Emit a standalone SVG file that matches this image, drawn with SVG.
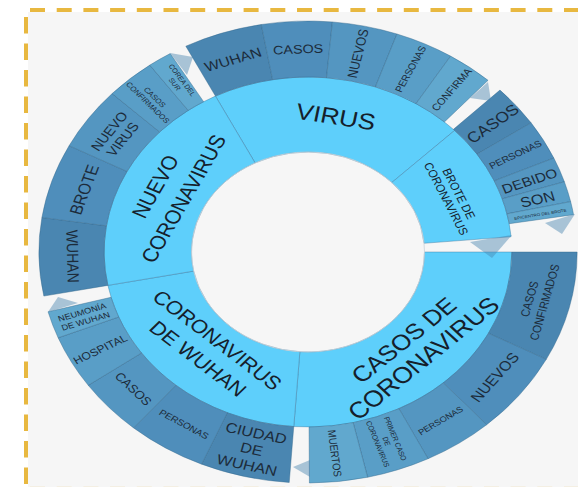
<svg xmlns="http://www.w3.org/2000/svg" width="578" height="487" viewBox="0 0 578 487">
<style>
.inner{fill:#5ecffb;stroke:#3c7399;stroke-width:0.7;stroke-opacity:0.6;vector-effect:non-scaling-stroke}
.o0{fill:#4a86b1}.o1{fill:#4f8ebb}.o2{fill:#5496c1}.o3{fill:#599ec7}.o4{fill:#61a8ce}
.seg{stroke:#2f6688;stroke-width:0.7;stroke-opacity:0.6;vector-effect:non-scaling-stroke}
.fold{fill:#4a85b0;fill-opacity:0.45}
text{font-family:"Liberation Sans",Arial,sans-serif;fill:#1c2b3a;text-anchor:middle}
.lbl{fill:#15202b}
</style>
<rect x="28" y="12" width="550" height="475" fill="#f6f6f6"/>
<g stroke="#e8b840" stroke-width="4" fill="none">
<line x1="30" y1="10" x2="578" y2="10" stroke-dasharray="15 11.7"/>
<line x1="26" y1="17" x2="26" y2="487" stroke-dasharray="16.5 10"/>
<line x1="30" y1="488.7" x2="578" y2="488.7" stroke-dasharray="15 11.7" stroke-opacity="0.4"/>
</g>
<g transform="translate(308 252) scale(1.165 1)">
<g id="connectors"></g>
<g id="virus">
<path class="inner" d="M-79.45 -155.93A175 175 0 0 1 125.88 -121.57L71.93 -69.47A100 100 0 0 0 -45.40 -89.10Z"/>
<text class="lbl" transform="translate(23.87 -135.41) rotate(10)" font-size="22.5" y="7.9">VIRUS</text>
</g>
<g id="brote-de-coronavirus">
<path class="inner" d="M125.88 -121.57A175 175 0 0 1 174.33 -15.25L99.62 -8.72A100 100 0 0 0 71.93 -69.47Z"/>
<text class="lbl" transform="translate(124.05 -55.75) rotate(65.8)" font-size="10.6"><tspan x="0" y="-2.3">BROTE DE</tspan><tspan x="0" y="9.7">CORONAVIRUS</tspan></text>
</g>
<g id="casos-de-coronavirus">
<path class="inner" d="M175 0A175 175 0 0 1 -12.21 174.57L-6.98 99.76A100 100 0 0 0 100 0Z"/>
<text class="lbl" transform="translate(90.71 97.28) rotate(-43)" font-size="22"><tspan x="0" y="-4.8">CASOS DE</tspan><tspan x="0" y="20.2" font-size="22.8">CORONAVIRUS</tspan></text>
</g>
<g id="coronavirus-de-wuhan">
<path class="inner" d="M-12.21 174.57A175 175 0 0 1 -171.78 33.39L-98.16 19.08A100 100 0 0 0 -6.98 99.76Z"/>
<text class="lbl" transform="translate(-86.14 97.37) rotate(41.5)" font-size="19"><tspan x="0" y="-5.85">CORONAVIRUS</tspan><tspan x="0" y="19.15">DE WUHAN</tspan></text>
</g>
<g id="nuevo-coronavirus">
<path class="inner" d="M-171.78 33.39A175 175 0 0 1 -79.45 -155.93L-45.40 -89.10A100 100 0 0 0 -98.16 19.08Z"/>
<text class="lbl" transform="translate(-119.02 -59.34) rotate(-63.5)" font-size="19"><tspan x="0" y="-6.85">NUEVO</tspan><tspan x="0" y="20.15">CORONAVIRUS</tspan></text>
</g>
<ellipse cx="0" cy="0" rx="100" ry="100" fill="none" stroke="#c8d3da" stroke-width="0.8" vector-effect="non-scaling-stroke"/>

<!-- VIRUS children -->
<g id="v-wuhan"><path class="seg o0" d="M-104.87 -205.82A231 231 0 0 1 -40.11 -227.49L-30.39 -172.34A175 175 0 0 0 -79.45 -155.93Z"/>
<text transform="translate(-64.41 -192.50) rotate(-18.5)" font-size="13.4" y="4.7">WUHAN</text></g>
<g id="v-casos"><path class="seg o1" d="M-40.11 -227.49A231 231 0 0 1 20.94 -230.05L15.86 -174.28A175 175 0 0 0 -30.39 -172.34Z"/>
<text transform="translate(-8.50 -202.82) rotate(-2.4)" font-size="12.3" y="4.3">CASOS</text></g>
<g id="v-nuevos"><path class="seg o2" d="M20.94 -230.05A231 231 0 0 1 76.35 -218.02L57.84 -165.17A175 175 0 0 0 15.86 -174.28Z"/>
<text transform="translate(42.89 -198.41) rotate(-77.8)" font-size="11.8" y="4.1">NUEVOS</text></g>
<g id="v-personas"><path class="seg o3" d="M76.35 -218.02A231 231 0 0 1 122.41 -195.89L92.73 -148.40A175 175 0 0 0 57.84 -165.17Z"/>
<text transform="translate(88.04 -182.92) rotate(-64.3)" font-size="9" y="3.15">PERSONAS</text></g>
<g id="v-confirma"><path class="seg o4" d="M122.41 -195.89A231 231 0 0 1 154.56 -171.66L117.09 -130.04A175 175 0 0 0 92.73 -148.40Z"/>
<text transform="translate(123.34 -162.49) rotate(-52.8)" font-size="9.5" y="3.3">CONFIRMA</text></g>

<!-- BROTE children -->
<g id="b-casos"><path class="seg o0" d="M164.77 -161.91A231 231 0 0 1 191.50 -129.18L145.08 -97.86A175 175 0 0 0 124.83 -122.66Z"/>
<text transform="translate(158.53 -128.38) rotate(-39)" font-size="15" y="5.25">CASOS</text></g>
<g id="b-personas"><path class="seg o1" d="M191.50 -129.18A231 231 0 0 1 211.02 -93.95L159.86 -71.17A175 175 0 0 0 145.08 -97.86Z"/>
<text transform="translate(178.05 -97.48) rotate(-28.7)" font-size="9" y="3.15">PERSONAS</text></g>
<g id="b-debido"><path class="seg o2" d="M211.02 -93.95A231 231 0 0 1 220.07 -70.22L166.72 -53.20A175 175 0 0 0 159.86 -71.17Z"/>
<text transform="translate(190.15 -71.09) rotate(-20.5)" font-size="13" y="4.55">DEBIDO</text></g>
<g id="b-son"><path class="seg o3" d="M220.07 -70.22A231 231 0 0 1 225.43 -50.38L170.78 -38.17A175 175 0 0 0 166.72 -53.20Z"/>
<text transform="translate(197.04 -52.80) rotate(-15)" font-size="14" y="4.9">SON</text></g>
<g id="b-epicentro"><path class="seg o4" d="M225.43 -50.38A231 231 0 0 1 227.97 -37.33L172.71 -28.28A175 175 0 0 0 170.78 -38.17Z"/>
<text transform="translate(199.47 -37.70) rotate(-10.7)" font-size="3.9" y="1.37">EPICENTRO DEL BROTE</text></g>

<!-- CASOS DE CORONAVIRUS children -->
<g id="c-casos-confirmados"><path class="seg o0" d="M231 0A231 231 0 0 1 204.53 107.37L154.95 81.34A175 175 0 0 0 175 0Z"/>
<text transform="translate(196.57 48.64) rotate(-76.1)" font-size="10.4"><tspan x="0" y="-3.1">CASOS</tspan><tspan x="0" y="10.4">CONFIRMADOS</tspan></text></g>
<g id="c-nuevos"><path class="seg o1" d="M204.53 107.37A231 231 0 0 1 153.36 172.74L116.18 130.87A175 175 0 0 0 154.95 81.34Z"/>
<text transform="translate(160.36 125.29) rotate(-52)" font-size="13.8" y="4.83">NUEVOS</text></g>
<g id="c-personas"><path class="seg o2" d="M153.36 172.74A231 231 0 0 1 103.07 206.72L78.09 156.61A175 175 0 0 0 116.18 130.87Z"/>
<text transform="translate(113.80 168.70) rotate(-34)" font-size="8" y="2.8">PERSONAS</text></g>
<g id="c-primer-caso"><path class="seg o3" d="M103.07 206.72A231 231 0 0 1 51.17 225.25L38.76 170.64A175 175 0 0 0 78.09 156.61Z"/>
<text transform="translate(67.44 189.34) rotate(70.4)" font-size="6.6"><tspan x="0" y="-5.7">PRIMER CASO</tspan><tspan x="0" y="2.3">DE</tspan><tspan x="0" y="10.3">CORONAVIRUS</tspan></text></g>
<g id="c-muertos"><path class="seg o4" d="M51.17 225.25A231 231 0 0 1 1.21 231L0.92 175A175 175 0 0 0 38.76 170.64Z"/>
<text transform="translate(22.93 201.30) rotate(83.5)" font-size="9.5" y="3.3">MUERTOS</text></g>

<!-- CORONAVIRUS DE WUHAN children -->
<g id="w-ciudad"><path class="seg o0" d="M-16.11 230.44A231 231 0 0 1 -91.36 212.15L-69.21 160.72A175 175 0 0 0 -12.21 174.57Z"/>
<text transform="translate(-48.42 197.13) rotate(13.8)" font-size="14"><tspan x="0" y="-11.6">CIUDAD</tspan><tspan x="0" y="4.9">DE</tspan><tspan x="0" y="21.4">WUHAN</tspan></text></g>
<g id="w-personas"><path class="seg o1" d="M-91.36 212.15A231 231 0 0 1 -149.71 175.91L-113.42 133.26A175 175 0 0 0 -69.21 160.72Z"/>
<text transform="translate(-106.45 172.27) rotate(31.7)" font-size="8.7" y="3.05">PERSONAS</text></g>
<g id="w-casos"><path class="seg o2" d="M-149.71 175.91A231 231 0 0 1 -188.63 133.31L-142.91 101.00A175 175 0 0 0 -113.42 133.26Z"/>
<text transform="translate(-149.92 136.88) rotate(47.6)" font-size="11.5" y="4">CASOS</text></g>
<g id="w-hospital"><path class="seg o3" d="M-188.63 133.31A231 231 0 0 1 -214.48 85.79L-162.49 65.00A175 175 0 0 0 -142.91 101.00Z"/>
<text transform="translate(-178.23 97.18) rotate(-28.6)" font-size="10.5" y="3.7">HOSPITAL</text></g>
<g id="w-neumonia"><path class="seg o4" d="M-214.48 85.79A231 231 0 0 1 -223.13 59.78L-169.03 45.29A175 175 0 0 0 -162.49 65.00Z"/>
<text transform="translate(-192.40 64.76) rotate(-18.6)" font-size="8"><tspan x="0" y="-1.95">NEUMONÍA</tspan><tspan x="0" y="7.55">DE WUHAN</tspan></text></g>

<!-- NUEVO CORONAVIRUS children -->
<g id="n-wuhan"><path class="seg o0" d="M-226.75 44.07A231 231 0 0 1 -228.41 -34.53L-173.04 -26.16A175 175 0 0 0 -171.78 33.39Z"/>
<text transform="translate(-201.96 4.23) rotate(88.8)" font-size="14" y="4.9">WUHAN</text></g>
<g id="n-brote"><path class="seg o1" d="M-228.41 -34.53A231 231 0 0 1 -205.08 -106.31L-155.37 -80.54A175 175 0 0 0 -173.04 -26.16Z"/>
<text transform="translate(-192.12 -62.42) rotate(-72)" font-size="15" y="5.25">BROTE</text></g>
<g id="n-nuevo-virus"><path class="seg o2" d="M-205.08 -106.31A231 231 0 0 1 -168.12 -158.42L-127.37 -120.02A175 175 0 0 0 -155.37 -80.54Z"/>
<text transform="translate(-164.85 -116.74) rotate(-54.7)" font-size="12.5"><tspan x="0" y="-2.6">NUEVO</tspan><tspan x="0" y="11.4">VIRUS</tspan></text></g>
<g id="n-casos-confirmados"><path class="seg o3" d="M-168.12 -158.42A231 231 0 0 1 -135.78 -186.88L-102.87 -141.58A175 175 0 0 0 -127.37 -120.02Z"/>
<text transform="translate(-134.51 -152.05) rotate(48.5)" font-size="7"><tspan x="0" y="-1.55">CASOS</tspan><tspan x="0" y="6.45">CONFIRMADOS</tspan></text></g>
<g id="n-corea"><path class="seg o4" d="M-135.78 -186.88A231 231 0 0 1 -118.27 -198.43L-89.60 -150.33A175 175 0 0 0 -102.87 -141.58Z"/>
<text transform="translate(-111.16 -169.87) rotate(56.8)" font-size="6.4"><tspan x="0" y="-1.5">COREA DEL</tspan><tspan x="0" y="6">SUR</tspan></text></g>
</g>
<g id="folds">
<polygon class="fold" points="170,53 193,57 187,75"/>
<polygon class="fold" points="488,82 491,101 470,98"/>
<polygon class="fold" points="545,223 575,214 562,234"/>
<polygon class="fold" points="470,242 512,235 492,258"/>
<polygon class="fold" points="293,467 310,460 310,477"/>
<polygon class="fold" points="48,312 58,297 78,303"/>
</g>
</svg>
